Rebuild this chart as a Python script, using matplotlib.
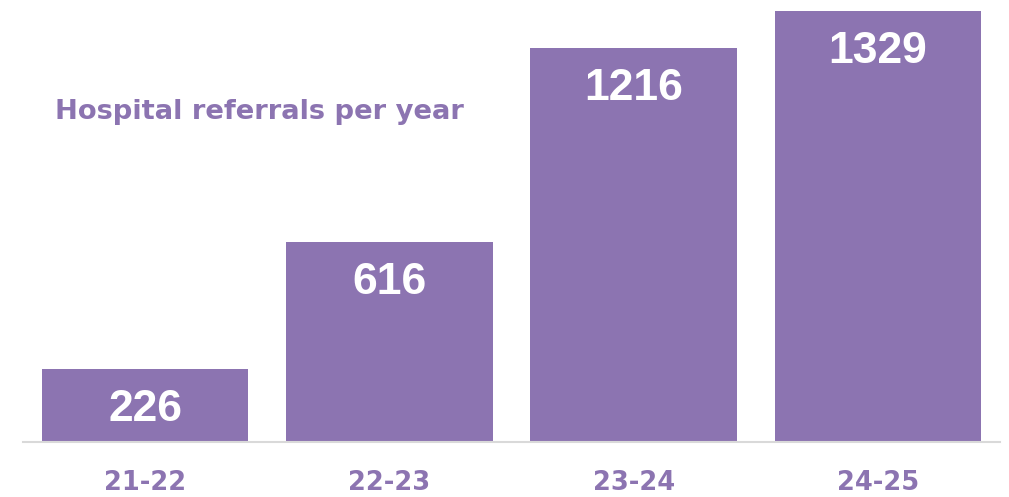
import matplotlib.pyplot as plt

years = ["21-22", "22-23", "23-24", "24-25"]
referrals = [226, 616, 1216, 1329]

purple = "#8C74B1"

fig = plt.figure(figsize=(10.09, 4.97), dpi=100)
ax = fig.add_axes([23 / 1009, 55 / 497, 977 / 1009, 442 / 497])

x = range(len(years))
ax.bar(x, referrals, width=0.845, color=purple, zorder=2)
ax.set_xlim(-0.5, 3.5)
ax.set_ylim(0, 1364)

for i, v in enumerate(referrals):
    # value inside the bar, near the top
    ax.annotate(str(v), xy=(i, v), xytext=(0, -37.4), textcoords="offset points",
                ha="center", va="baseline", color="white", fontsize=32,
                fontweight="bold", family="Liberation Sans")
    # year label under the axis line
    ax.annotate(years[i], xy=(i, 0), xytext=(0, -34.6), textcoords="offset points",
                ha="center", va="baseline", color=purple, fontsize=18.5,
                fontweight="bold", family="DejaVu Sans", annotation_clip=False)

ax.set_xticks([])
ax.set_yticks([])
for s in ["top", "right", "left"]:
    ax.spines[s].set_visible(False)
ax.spines["bottom"].set_color("#D9D9D9")
ax.spines["bottom"].set_linewidth(1.5)

fig.text(55 / 1009, (497 - 119) / 497, "Hospital referrals per year", color=purple,
         fontsize=19.7, fontweight="bold", family="DejaVu Sans", va="baseline", ha="left")

fig.savefig("out.png", dpi=100)
